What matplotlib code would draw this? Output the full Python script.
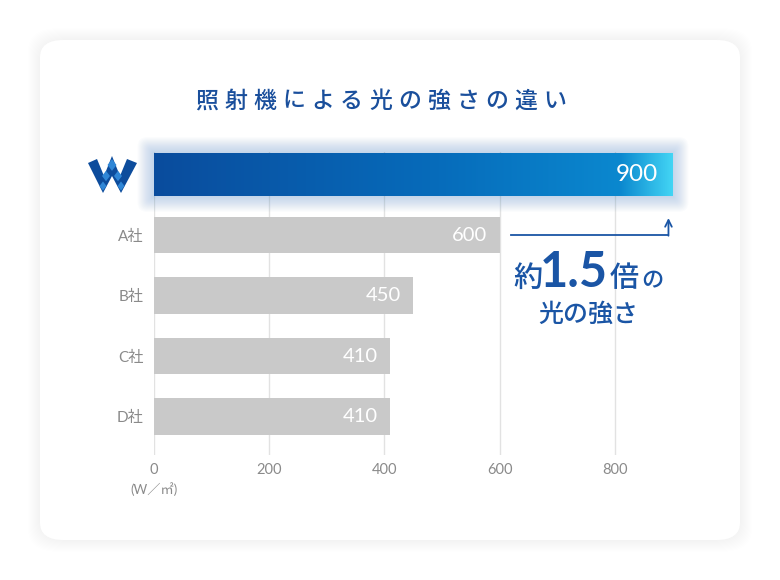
import numpy as np
import matplotlib.pyplot as plt
from matplotlib.patches import FancyBboxPatch, Rectangle, Polygon
from matplotlib.colors import LinearSegmentedColormap

plt.rcParams['font.family'] = ['Lato', 'Noto Sans CJK JP', 'DejaVu Sans']

# data
companies = ['', 'A社', 'B社', 'C社', 'D社']   # first row = own product (logo)
values = [900, 600, 450, 410, 410]
xticks = [0, 200, 400, 600, 800]
title = '照射機による光の強さの違い'
unit_label = '(W／㎡)'

W, H = 780, 580
fig = plt.figure(figsize=(W / 100, H / 100), dpi=100)
fig.patch.set_facecolor('white')


def fx(x):
    return x / W


def fy(y):
    return 1 - y / H


# card with soft shadow
for i in range(12):
    pad = 24 - i * 2
    fig.patches.append(FancyBboxPatch(
        (fx(40 - pad / 2), fy(540 + pad / 2)), fx(700 + pad), (500 + pad) / H,
        boxstyle='round,pad=0,rounding_size=0.04', transform=fig.transFigure,
        facecolor='#000000', alpha=0.004, edgecolor='none', zorder=-3))
fig.patches.append(FancyBboxPatch(
    (fx(40), fy(540)), fx(700), 500 / H,
    boxstyle='round,pad=0,rounding_size=0.03', transform=fig.transFigure,
    facecolor='white', edgecolor='none', zorder=-2))

# title with letter spacing
for i, ch in enumerate(title):
    fig.text(fx(206.5 + i * 29), fy(101), ch, ha='center', va='center',
             fontsize=16.5, color='#1a4f9c', fontweight='medium',
             family=['Noto Sans CJK JP'])

ax = fig.add_axes([fx(153.5), fy(455), fx(519), 303 / H])
ax.set_facecolor('none')
ax.set_zorder(1)
ypos = np.arange(len(values))
heights = [0.71] + [0.6] * (len(values) - 1)

# soft glow behind main bar
for i in range(16):
    px = 1 + i * 1.0
    ax.add_patch(FancyBboxPatch((0 - px / 0.5775, ypos[0] - heights[0] / 2 - px / 60.5),
                                values[0] + 2 * px / 0.5775, heights[0] + 2 * px / 60.5,
                                boxstyle='round,pad=0,rounding_size=%f' % (px / 0.5775 * 0.6),
                                mutation_aspect=0.5775 / 60.5,
                                facecolor='#5a90cc', alpha=0.022, edgecolor='none',
                                zorder=1, clip_on=False))

bars = ax.barh(ypos, values, height=heights,
               color=['#0b5aaa'] + ['#c9c9c9'] * (len(values) - 1), zorder=2)

# gradient on main bar
cmap = LinearSegmentedColormap.from_list('g', [(0, '#0a4c9d'), (0.55, '#066cbb'),
                                               (0.9, '#0b88cf'), (1.0, '#42d4f4')])
grad = np.linspace(0, 1, 256).reshape(1, -1)
b0 = bars[0]
im = ax.imshow(grad, cmap=cmap, aspect='auto', zorder=3,
               extent=[0, values[0], ypos[0] + heights[0] / 2, ypos[0] - heights[0] / 2])
im.set_clip_path(b0)

# value labels
for i, v in enumerate(values):
    ax.text(v - (26 if i == 0 else 21), ypos[i], f'{v}', ha='right', va='center',
            color='white', fontsize=17.5 if i == 0 else 14.5, zorder=5)

ax.set_xlim(0, 900)
ax.set_ylim(4.636, -0.372)
ax.set_xticks(xticks)
ax.set_xticklabels([str(t) for t in xticks])
ax.set_yticks(ypos)
ax.set_yticklabels(companies)
ax.tick_params(axis='x', length=0, pad=6, labelsize=10.5, labelcolor='#8a8a8a')
ax.tick_params(axis='y', length=0, pad=7, labelsize=11, labelcolor='#8a8a8a')
ax.grid(axis='x', color='#e2e2e2', linewidth=1)
ax.set_axisbelow(True)
for s in ax.spines.values():
    s.set_visible(False)

fig.text(fx(154), fy(489), unit_label, ha='center', va='center',
         fontsize=9.5, color='#8a8a8a')

# arrow annotation
acol = '#1a55a5'
ax.plot([620, 893], [1, 1], color=acol, linewidth=1.3, zorder=4, clip_on=False)
ax.annotate('', xy=(893, 0.72), xytext=(893, 1.012),
            arrowprops=dict(arrowstyle='->', color=acol, lw=1.3,
                            mutation_scale=12, shrinkA=0, shrinkB=0))

fig.text(fx(513), fy(287), '約', ha='left', va='baseline', fontsize=21,
         color=acol, fontweight='medium', family=['Noto Sans CJK JP'])
fig.text(fx(540), fy(287), '1.5', ha='left', va='baseline', fontsize=35,
         color=acol, fontweight='bold', family=['Lato'])
fig.text(fx(610), fy(287), '倍', ha='left', va='baseline', fontsize=21,
         color=acol, fontweight='medium', family=['Noto Sans CJK JP'])
fig.text(fx(641), fy(287), 'の', ha='left', va='baseline', fontsize=16,
         color=acol, fontweight='medium', family=['Noto Sans CJK JP'])
fig.text(fx(588), fy(322), '光の強さ', ha='center', va='baseline', fontsize=18,
         color=acol, fontweight='medium', family=['Noto Sans CJK JP'])

# logo
dark = '#0d4c9c'
light = '#2f86d6'
w_outline = [(88, 163), (97, 159), (104, 176), (112, 156), (120, 176),
             (127, 159), (137, 163), (121, 193), (112, 176), (103, 193)]
fig.patches.append(Polygon([(fx(x), fy(y)) for x, y in w_outline], closed=True,
                           transform=fig.transFigure, facecolor=dark,
                           edgecolor='none', zorder=5))
for cx, cy, r in [(112, 165, 4.5), (106, 176, 4), (118, 176, 4), (103, 186, 3.5),
                  (121, 186, 3.5)]:
    pts = [(cx, cy - r * 1.3), (cx + r, cy), (cx, cy + r * 1.3), (cx - r, cy)]
    fig.patches.append(Polygon([(fx(x), fy(y)) for x, y in pts], closed=True,
                               transform=fig.transFigure, facecolor=light,
                               edgecolor='none', zorder=6))

fig.savefig('out.png', dpi=100, facecolor='white')
